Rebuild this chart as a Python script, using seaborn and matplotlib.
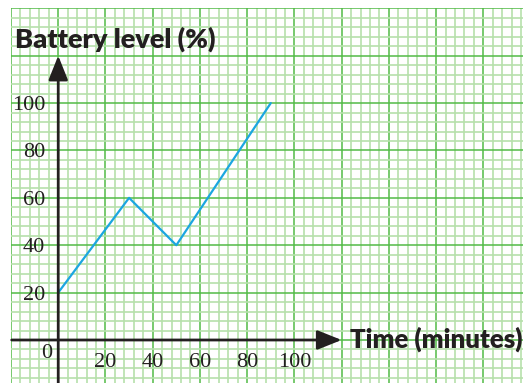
import numpy as np
import matplotlib
matplotlib.use("Agg")
import matplotlib.pyplot as plt
from matplotlib.ticker import MultipleLocator
import seaborn as sns

# ---- data ----
minutes = [0, 30, 50, 90]
battery = [20, 60, 40, 100]
x_ticks = [20, 40, 60, 80, 100]
y_ticks = [20, 40, 60, 80, 100]
x_tick_labels = ["20", "40", "60", "80", "100"]
y_tick_labels = ["20", "40", "60", "80", "100"]
x_title = "Time (minutes)"
y_title = "Battery level (%)"

sns.set_style("white")
plt.rcParams["font.family"] = ["Liberation Serif", "DejaVu Serif"]

INK = "#231f20"
LINE = "#1ba6e0"
MAJOR = "#52bb47"
MINOR = "#b6e0ab"

fig = plt.figure(figsize=(5.23, 3.83), dpi=100)
pos = [11 / 523, 0.0, 512 / 523, (383 - 8.3) / 383]

xlim = (-20, 196.8)
ylim = (-18.15, 140)

# graph-paper grid (separate axes, not shared)
axg = fig.add_axes(pos)
axg.set_xlim(*xlim)
axg.set_ylim(*ylim)
axg.xaxis.set_major_locator(MultipleLocator(20))
axg.yaxis.set_major_locator(MultipleLocator(20))
axg.xaxis.set_minor_locator(MultipleLocator(4))
axg.yaxis.set_minor_locator(MultipleLocator(4))
axg.grid(which="minor", color=MINOR, linewidth=1.2)
axg.grid(which="major", color=MAJOR, linewidth=1.1)
axg.tick_params(which="both", length=0, labelbottom=False, labelleft=False)
for s in axg.spines.values():
    s.set_visible(False)
axg.set_axisbelow(True)

# main axes
ax = fig.add_axes(pos)
ax.patch.set_visible(False)
for s in ax.spines.values():
    s.set_visible(False)
ax.spines["left"].set_position(("data", 0))
ax.spines["bottom"].set_position(("data", 0))

sns.lineplot(x=minutes, y=battery, ax=ax, color=LINE, linewidth=1.6, zorder=3)
ax.set_xlabel("")
ax.set_ylabel("")
ax.set_xlim(*xlim)
ax.set_ylim(*ylim)

ax.set_xticks(x_ticks, x_tick_labels)
ax.set_yticks(y_ticks, y_tick_labels)
ax.xaxis.set_minor_locator(plt.NullLocator())
ax.yaxis.set_minor_locator(plt.NullLocator())
ax.tick_params(which="both", direction="inout", length=7, width=1.4, color=INK,
               labelcolor=INK, labelsize=16, pad=6)
ax.grid(False)

arrow = dict(arrowstyle="-|>,head_length=0.55,head_width=0.22", lw=2,
             color=INK, shrinkA=0, shrinkB=0, mutation_scale=27)
ax.annotate("", xy=(0, 120), xytext=(0, ylim[0]), arrowprops=arrow,
            annotation_clip=False, zorder=4)
ax.annotate("", xy=(120, 0), xytext=(xlim[0] + 0.3, 0), arrowprops=arrow,
            annotation_clip=False, zorder=4)

ax.text(-4.9, -5.9, "0", fontsize=16, color=INK, ha="center", va="center")

title_font = dict(family=["Lato", "DejaVu Sans"], weight="heavy", color=INK)
ax.text(-18.3, 123.6, y_title, ha="left", va="baseline", fontsize=19.5, **title_font)
ax.text(123.5, -3.0, x_title, ha="left", va="baseline", fontsize=18.5, **title_font)

fig.savefig("out.png", dpi=100)
